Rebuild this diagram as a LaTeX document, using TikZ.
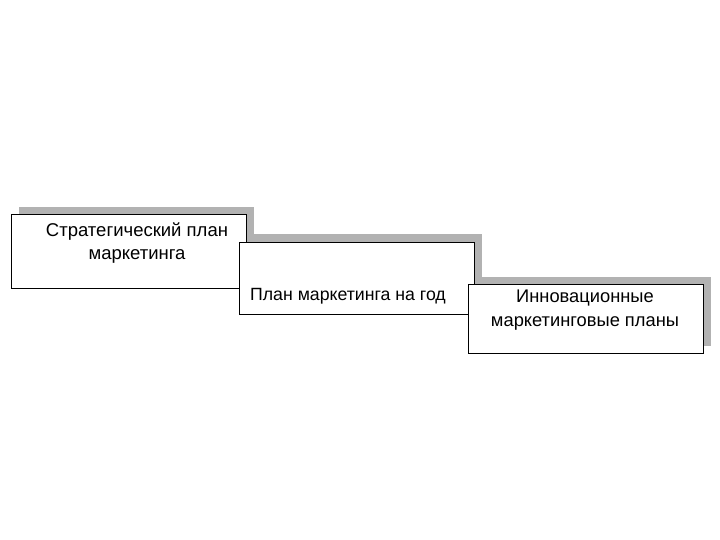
\documentclass[tikz,border=0pt]{standalone}
\usepackage{fontspec}
\setmainfont{Liberation Sans}
\usetikzlibrary{shadows}

\tikzset{
  planbox/.style={draw=black, line width=1pt, fill=white, rectangle,
    minimum width=235pt, inner sep=0pt,
    drop shadow={shadow xshift=8pt, shadow yshift=8pt, fill=gray!60, opacity=1}},
  plantext/.style={align=center, inner sep=0pt}
}

\begin{document}
\begin{tikzpicture}[x=1pt, y=-1pt]

\useasboundingbox[fill=white] (0,0) rectangle (720,540);

% three plans, stepping down to the right
\node[planbox, minimum height=73pt] (strat) at (128.5,251.5) {};
\node[plantext, font=\fontsize{18.5}{23}\selectfont] (strattext) at (137,243.5) {Стратегический план\\маркетинга};

\node[planbox, minimum height=72pt] (year) at (356.5,278) {};
\node[plantext, font=\fontsize{17.7}{23}\selectfont] (yeartext) at (348,296) {План маркетинга на год};

\node[planbox, minimum height=69pt] (innov) at (585.5,319) {};
\node[plantext, font=\fontsize{18.3}{24}\selectfont] (innovtext) at (585,310) {Инновационные\\маркетинговые планы};

\end{tikzpicture}
\end{document}
